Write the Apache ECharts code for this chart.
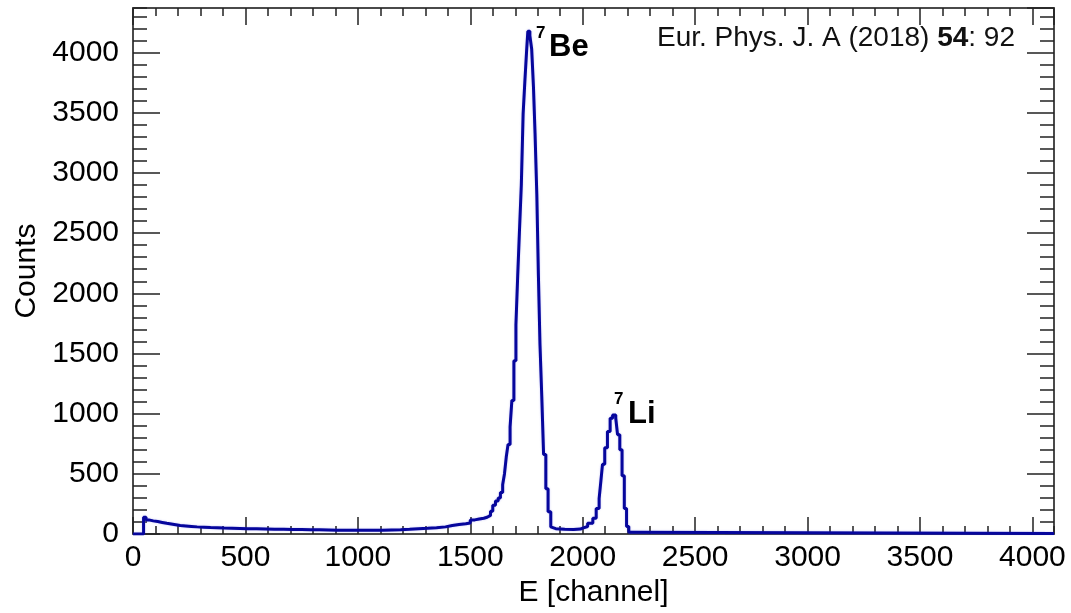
<!DOCTYPE html>
<html>
<head>
<meta charset="utf-8">
<script src="https://cdn.jsdelivr.net/npm/echarts@6/dist/echarts.min.js"></script>
<style>
html,body{margin:0;padding:0;background:#fff;}
#chart{width:1071px;height:613px;}
</style>
</head>
<body>
<div id="chart"></div>
<script>
// Histogram: left bin edge (channel) and counts held until the next edge
const channels = [0,47,58,70,90,110,130,150,170,190,210,235,260,285,315,345,375,405,440,475,510,550,590,630,670,710,750,790,830,870,910,950,990,1030,1070,1110,1150,1190,1230,1270,1310,1350,1390,1420,1450,1480,1500,1520,1540,1560,1575,1590,1600,1612,1624,1634,1644,1652,1660,1668,1677,1685,1694,1703,1711,1719,1727,1735,1743,1751,1756,1765,1773,1781,1788,1796,1803,1810,1818,1826,1836,1846,1858,1866,1880,1920,1960,1990,2000,2022,2045,2060,2073,2081,2088,2098,2110,2122,2133,2147,2155,2165,2175,2185,2195,2205,2215,4096];
const counts   = [0,140,118,110,104,97,90,84,78,72,68,64,60,57,54,52,50,49,47,45,44,43,41,40,39,38,37,36,35,33,32,31,31,32,33,35,37,40,44,48,53,60,72,80,86,92,118,125,132,140,155,190,240,275,300,345,410,500,640,745,890,1110,1440,1740,2150,2530,2900,3490,3770,4030,4176,4140,4030,3714,3332,2815,2147,1575,1141,662,376,185,60,45,40,39,42,50,63,90,131,212,294,445,580,717,853,962,989,962,826,700,485,212,63,16,4,4];

const xMax = 4096, yMax = 4370;
const xMajor = 500, xMinor = 100, yMajor = 500, yMinor = 100;

const FONT = 'Liberation Sans, Arial, sans-serif';
const axisCol = '#4a4a4a';
const tickCol = '#222';
const plain = v => String(v);

function xAx(pos, interval, len, labels, line, name) {
  return {
    type: 'value', position: pos, min: 0, max: xMax, interval: interval,
    splitLine: {show: false},
    axisLine: {show: line, onZero: false, lineStyle: {color: axisCol, width: 2}},
    axisTick: {show: true, inside: true, length: len, lineStyle: {color: tickCol, width: 1.5}},
    axisLabel: {show: labels, showMaxLabel: false, formatter: plain, margin: 9, color: '#000', fontSize: 30, fontFamily: FONT},
    name: name || '', nameLocation: 'middle', nameGap: 43,
    nameTextStyle: {color: '#000', fontSize: 30, fontFamily: FONT}
  };
}
function yAx(pos, interval, len, labels, line, name) {
  return {
    type: 'value', position: pos, min: 0, max: yMax, interval: interval,
    splitLine: {show: false},
    axisLine: {show: line, onZero: false, lineStyle: {color: axisCol, width: 2}},
    axisTick: {show: true, inside: true, length: len, lineStyle: {color: tickCol, width: 1.5}},
    axisLabel: {show: labels, showMaxLabel: false, formatter: plain, margin: 14, color: '#000', fontSize: 30, fontFamily: FONT},
    name: name || '', nameLocation: 'middle', nameGap: 85, nameRotate: 90,
    nameTextStyle: {color: '#000', fontSize: 30, fontFamily: FONT}
  };
}

const data = channels.map((c, i) => [c, counts[i]]);

const chart = echarts.init(document.getElementById('chart'), null, {renderer: 'canvas'});
chart.setOption({
  animation: false,
  backgroundColor: '#fff',
  grid: {left: 133, right: 17, top: 8, bottom: 70, containLabel: false},
  xAxis: [
    xAx('bottom', xMajor, 17, true, true, 'E [channel]'),
    xAx('bottom', xMinor, 8, false, false),
    xAx('top', xMajor, 17, false, true),
    xAx('top', xMinor, 8, false, false)
  ],
  yAxis: [
    yAx('left', yMajor, 27, true, true, 'Counts'),
    yAx('left', yMinor, 14, false, false),
    yAx('right', yMajor, 27, false, true),
    yAx('right', yMinor, 14, false, false)
  ],
  series: [{
    type: 'line', step: 'end', xAxisIndex: 0, yAxisIndex: 0,
    data: data, showSymbol: false, symbol: 'none',
    lineStyle: {color: '#06069c', width: 3, shadowColor: 'rgba(80,80,230,0.35)', shadowBlur: 2},
    z: 3
  }],
  graphic: [
    {type: 'text', x: 1015, y: 38, z: 10, style: {
      text: '{n|Eur. Phys. J. A (2018) }{b|54}{n|: 92}', align: 'right', verticalAlign: 'middle',
      rich: {n: {fontSize: 28, fontFamily: FONT, fill: '#111'}, b: {fontSize: 28, fontWeight: 'bold', fontFamily: FONT, fill: '#111'}}
    }},
    {type: 'text', x: 536, y: 33, z: 10, style: {text: '7', fontSize: 17, fontWeight: 'bold', fontFamily: FONT, fill: '#000', verticalAlign: 'middle'}},
    {type: 'text', x: 549, y: 47, z: 10, style: {text: 'Be', fontSize: 31, fontWeight: 'bold', fontFamily: FONT, fill: '#000', verticalAlign: 'middle'}},
    {type: 'text', x: 614, y: 399, z: 10, style: {text: '7', fontSize: 17, fontWeight: 'bold', fontFamily: FONT, fill: '#000', verticalAlign: 'middle'}},
    {type: 'text', x: 628, y: 414, z: 10, style: {text: 'Li', fontSize: 31, fontWeight: 'bold', fontFamily: FONT, fill: '#000', verticalAlign: 'middle'}}
  ]
});
</script>
</body>
</html>
